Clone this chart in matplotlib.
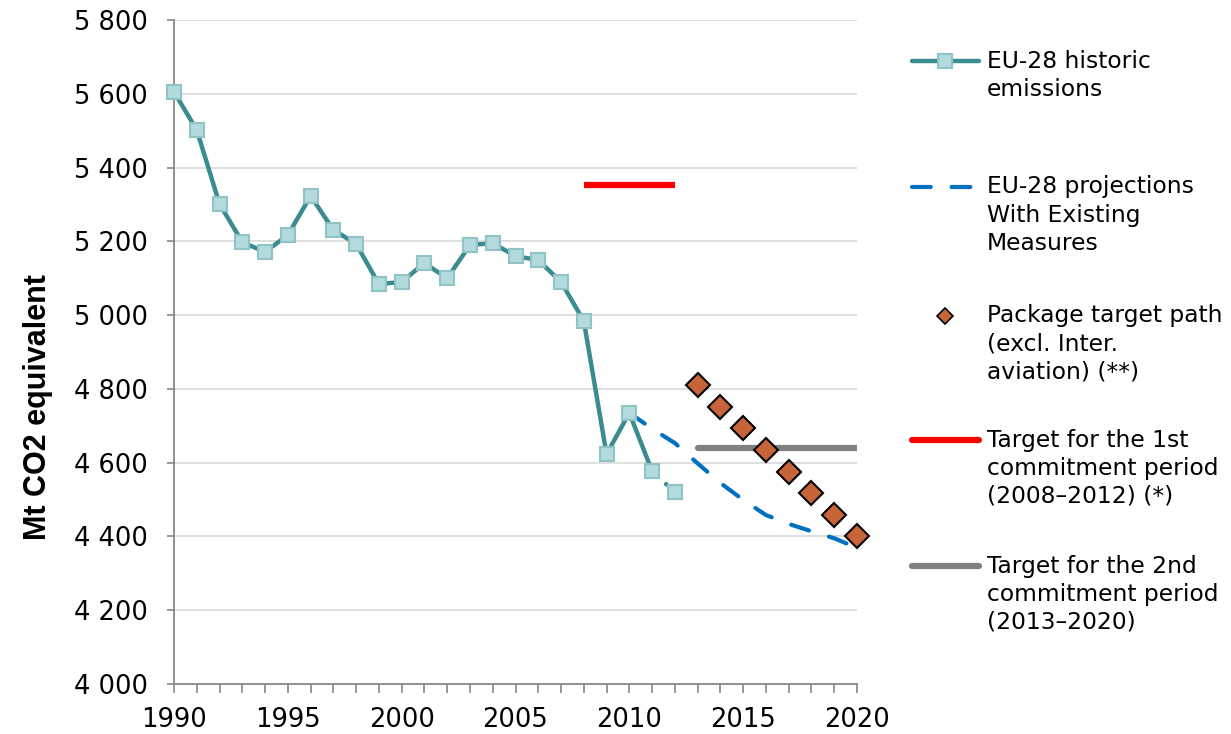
import matplotlib
matplotlib.use("Agg")
import matplotlib.pyplot as plt
from matplotlib.lines import Line2D
from matplotlib.ticker import FuncFormatter, MultipleLocator

# DATA
hist_years = list(range(1990, 2013))
hist_vals = [5605, 5502, 5301, 5198, 5171, 5217, 5323, 5231, 5193, 5084,
             5090, 5141, 5100, 5190, 5195, 5160, 5149, 5090, 4984, 4623,
             4735, 4577, 4520]

proj_years = list(range(2010, 2021))
proj_vals = [4735, 4692, 4653, 4598, 4545, 4499, 4458, 4434, 4414, 4395, 4369]

pkg_years = list(range(2013, 2021))
pkg_vals = [4810, 4752, 4693, 4634, 4576, 4517, 4459, 4400]

kp1_years = [2008, 2012]
kp1_val = 5352
kp2_years = [2013, 2020]
kp2_val = 4640

legend_labels = [
    "EU-28 historic\nemissions",
    "EU-28 projections\nWith Existing\nMeasures",
    "Package target path\n(excl. Inter.\naviation) (**)",
    "Target for the 1st\ncommitment period\n(2008\u20132012) (*)",
    "Target for the 2nd\ncommitment period\n(2013\u20132020)",
]

# COLOURS
teal = "#3b8c91"
sq_face = "#b3dadc"
sq_edge = "#8fc3c6"
blue = "#0070c0"
orange = "#c8643a"
red = "#ff0000"
grey = "#808080"

plt.rcParams["font.family"] = "DejaVu Sans"
fs_leg = 16.8
fs_tick = 18.5

fig = plt.figure(figsize=(12.31, 7.34), dpi=100)
W, H = 1231, 734
ax = fig.add_axes([174 / W, 1 - 684 / H, (857 - 174) / W, (684 - 20) / H])

# targets
ax.plot(kp1_years, [kp1_val] * 2, color=red, lw=4.5, solid_capstyle="butt", zorder=2)
ax.plot(kp2_years, [kp2_val] * 2, color=grey, lw=4.5, solid_capstyle="round", zorder=2)

# projections
ax.plot(proj_years, proj_vals, color=blue, lw=3, dashes=(4.5, 5),
        dash_capstyle="round", zorder=3)

# historic
ax.plot(hist_years[:-1], hist_vals[:-1], color=teal, lw=3.2, zorder=4,
        solid_joinstyle="round")
ax.plot(hist_years[-2:], hist_vals[-2:], color=teal, lw=3.2, ls=(0, (0.1, 4.2)),
        dash_capstyle="round", zorder=4)
ax.plot(hist_years, hist_vals, ls="none", marker="s", ms=10.5,
        mfc=sq_face, mec=sq_edge, mew=1.5, zorder=5, clip_on=False)

# package path
ax.plot(pkg_years, pkg_vals, ls="none", marker="D", ms=12,
        mfc=orange, mec="black", mew=1.5, zorder=6, clip_on=False)

ax.set_xlim(1990, 2020)
ax.set_ylim(4000, 5800)
ax.xaxis.set_major_locator(MultipleLocator(5))
ax.xaxis.set_minor_locator(MultipleLocator(1))
ax.yaxis.set_major_locator(MultipleLocator(200))
ax.yaxis.set_major_formatter(FuncFormatter(lambda v, p: f"{int(v):,}".replace(",", " ")))
ax.grid(axis="y", color="#d9d9d9", lw=1.2, zorder=0)
ax.set_axisbelow(True)
for s in ["top", "right"]:
    ax.spines[s].set_visible(False)
for s in ["left", "bottom"]:
    ax.spines[s].set_color("#888888")
    ax.spines[s].set_linewidth(1.3)
ax.tick_params(axis="both", which="both", color="#888888", width=1.2, length=5,
               labelsize=fs_tick, labelcolor="black")
ax.tick_params(axis="y", pad=14)
ax.tick_params(axis="x", which="both", length=6.5, pad=10)

fig.text(38 / W, 1 - 407 / H, "Mt CO2 equivalent", rotation=90, fontsize=22,
         fontweight="bold", family="Liberation Sans", ha="center", va="center")

# legend drawn by hand
entry_y = [61, 187, 316, 440, 566]
styles = [
    dict(color=teal, lw=3.2, marker="s", ms=10, mfc=sq_face, mec=sq_edge, mew=1.5,
         solid_capstyle="round", markevery=[1]),
    dict(color=blue, lw=3, dashes=(4.5, 5), dash_capstyle="round"),
    dict(ls="none", marker="D", ms=8, mfc=orange, mec="black", mew=1.2, markevery=[1]),
    dict(color=red, lw=4.5, solid_capstyle="round"),
    dict(color=grey, lw=4.5, solid_capstyle="round"),
]
for yy, st, lab in zip(entry_y, styles, legend_labels):
    yf = 1 - yy / H
    ln = Line2D([912 / W, 945 / W, 979 / W], [yf] * 3, transform=fig.transFigure, **st)
    fig.add_artist(ln)
    fig.text(987 / W, yf + 11.5 / H, lab, fontsize=fs_leg, va="top", ha="left",
             linespacing=1.28)

fig.savefig("out.png", dpi=100)
